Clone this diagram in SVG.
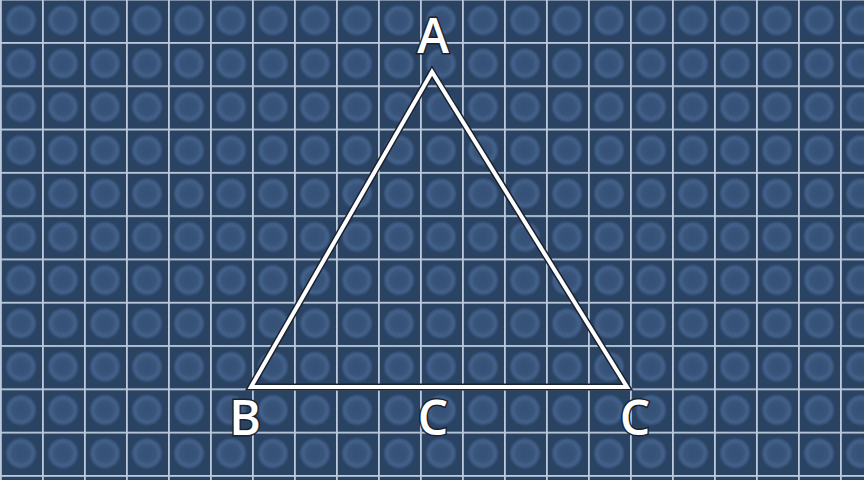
<svg xmlns="http://www.w3.org/2000/svg" width="864" height="480" viewBox="0 0 864 480">
  <defs>
    <radialGradient id="cellGlow" cx="0.5" cy="0.5" r="0.5">
      <stop offset="0" stop-color="#34507a"/>
      <stop offset="0.5" stop-color="#395478"/>
      <stop offset="0.8" stop-color="#41608a"/>
      <stop offset="1" stop-color="#2d4566"/>
    </radialGradient>
    <pattern id="grid" patternUnits="userSpaceOnUse" x="0" y="42" width="42" height="43.3">
      <rect width="42" height="43.3" fill="#2b4363"/>
      <circle cx="21" cy="21.6" r="16" fill="url(#cellGlow)"/>
      <circle cx="21" cy="21.6" r="11" fill="none" stroke="#46628c" stroke-width="1.5" stroke-dasharray="2 2" opacity="0.6"/>
      <rect x="0" y="0" width="42" height="1.8" fill="#bccadb"/>
      <rect x="0" y="0" width="1.8" height="43.3" fill="#bccadb"/>
    </pattern>
    <style>
      .tri { fill: none; stroke-linejoin: miter; }
      .outline { stroke: #1a2230; stroke-width: 7; }
      .edge { stroke: #ffffff; stroke-width: 4; }
      .lbl { font-family: "Open Sans", "Liberation Sans", sans-serif; font-size: 48px; font-weight: 600; fill: #ffffff; stroke: #1a2230; stroke-width: 3; paint-order: stroke fill; text-anchor: middle; }
    </style>
  </defs>
  <rect id="background" x="0" y="0" width="864" height="480" fill="url(#grid)"/>
  <g id="triangle">
    <polygon class="tri outline" points="432,72 251,387 627,387"/>
    <polygon class="tri edge" points="432,72 251,387 627,387"/>
  </g>
  <g id="label-A"><text class="lbl" x="433" y="53">A</text></g>
  <g id="label-B"><text class="lbl" x="245" y="435">B</text></g>
  <g id="label-C-mid"><text class="lbl" x="433" y="435">C</text></g>
  <g id="label-C-right"><text class="lbl" x="635" y="435">C</text></g>
</svg>
